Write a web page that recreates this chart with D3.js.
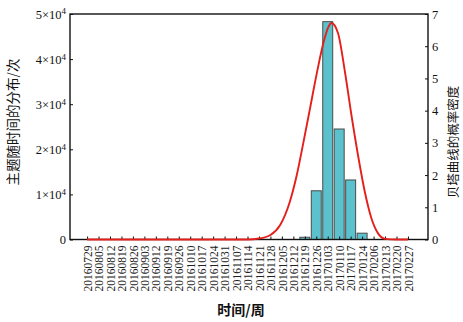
<!DOCTYPE html>
<html>
<head>
<meta charset="utf-8">
<script src="https://cdn.jsdelivr.net/npm/d3@7"></script>
<style>
  html, body { margin: 0; padding: 0; background: #fff; }
  svg { display: block; }
</style>
</head>
<body>
<svg id="chart" width="463" height="322"></svg>
<script>
const categories = ["20160729","20160805","20160812","20160819","20160826","20160903","20160912","20160919","20160926","20161010","20161017","20161024","20161031","20161107","20161114","20161121","20161128","20161205","20161212","20161219","20161226","20170103","20170110","20170117","20170124","20170206","20170213","20170220","20170227"];
const counts = [0,0,0,0,0,0,0,0,0,0,0,0,0,0,0,0,0,0,0,500,10800,48300,24500,13200,1400,0,0,0,0];
// beta-curve density read at (fractional) category positions
const densityPos = [0, 14, 15, 16, 16.85, 17.7, 18.3, 18.87, 19.46, 20.04, 20.62, 21.06, 21.33, 21.9, 22.49, 23.06, 23.65, 24.23, 24.81, 25.39, 26, 27, 28];
const densityVal = [0, 0, 0.03, 0.14, 0.45, 1.18, 2.0, 3.0, 4.08, 5.15, 6.1, 6.6, 6.72, 6.4, 5.23, 3.88, 2.6, 1.49, 0.66, 0.19, 0.02, 0, 0];
const leftTicks = [0, 10000, 20000, 30000, 40000, 50000];
const rightTicks = [0, 1, 2, 3, 4, 5, 6, 7];

const svg = d3.select("#chart");
const L = 70, R = 428, T = 14, B = 239.5;
const serif = "'Liberation Serif', 'Times New Roman', serif";
const cjk = "'Noto Sans CJK SC', sans-serif";

const x = d3.scalePoint().domain(categories).range([L, R]).padding(1.62).align(0.46);
const xi = d3.scaleLinear().domain([0, categories.length - 1])
  .range([x(categories[0]), x(categories[categories.length - 1])]);
const yL = d3.scaleLinear().domain([0, 50000]).range([B, T]);
const yR = d3.scaleLinear().domain([0, 7]).range([B, T]);
const bw = x.step() * 0.87;

// bars
svg.append("g").selectAll("rect")
  .data(categories.map((c, i) => ({c, v: counts[i]})).filter(d => d.v > 0))
  .join("rect")
  .attr("x", d => x(d.c) - bw / 2)
  .attr("y", d => yL(d.v))
  .attr("width", bw)
  .attr("height", d => B - yL(d.v))
  .attr("fill", "#5bc2cd")
  .attr("stroke", "#4a4a4a")
  .attr("stroke-width", 1);

// frame
svg.append("rect").attr("x", L).attr("y", T).attr("width", R - L).attr("height", B - T)
  .attr("fill", "none").attr("stroke", "#111").attr("stroke-width", 1.4);

// left axis
const gl = svg.append("g").attr("transform", `translate(${L},0)`)
  .call(d3.axisLeft(yL).tickValues(leftTicks).tickSizeInner(-3).tickSizeOuter(0).tickPadding(4));
gl.select(".domain").remove();
gl.selectAll("text").each(function(d) {
  const t = d3.select(this);
  t.text(null).attr("font-family", serif).attr("font-size", 12.5).attr("fill", "#111");
  if (d === 0) { t.text("0"); return; }
  t.append("tspan").text((d / 10000) + "×10");
  t.append("tspan").attr("dy", "-0.45em").attr("font-size", 9).text("4");
});
gl.selectAll("line").attr("stroke", "#111");

// right axis
const gr = svg.append("g").attr("transform", `translate(${R},0)`)
  .call(d3.axisRight(yR).tickValues(rightTicks).tickFormat(d3.format("d")).tickSizeInner(-3).tickSizeOuter(0).tickPadding(4));
gr.select(".domain").remove();
gr.selectAll("text").attr("font-family", serif).attr("font-size", 12.5).attr("fill", "#111");
gr.selectAll("line").attr("stroke", "#111");

// bottom axis
const gb = svg.append("g").attr("transform", `translate(0,${B})`)
  .call(d3.axisBottom(x).tickSizeInner(-3).tickSizeOuter(0).tickPadding(0));
gb.select(".domain").remove();
gb.selectAll("line").attr("stroke", "#111");
gb.selectAll("text")
  .attr("transform", "rotate(-90)")
  .attr("text-anchor", "end")
  .attr("x", -6).attr("y", 0).attr("dy", "0.36em")
  .attr("font-family", serif).attr("font-size", 11.5).attr("fill", "#222");

// density curve
const line = d3.line()
  .x(d => xi(d[0]))
  .y(d => yR(d[1]))
  .curve(d3.curveMonotoneX);
svg.append("path")
  .datum(densityPos.map((p, i) => [p, densityVal[i]]))
  .attr("d", line)
  .attr("fill", "none")
  .attr("stroke", "#e3201b")
  .attr("stroke-width", 1.9);

// titles
svg.append("text")
  .attr("transform", `translate(18,122) rotate(-90)`)
  .attr("text-anchor", "middle")
  .attr("font-family", cjk).attr("font-size", 13.5).attr("fill", "#111")
  .text("主题随时间的分布/次");
svg.append("text")
  .attr("transform", `translate(458,142) rotate(-90)`)
  .attr("text-anchor", "middle")
  .attr("font-family", cjk).attr("font-size", 12.5).attr("fill", "#111")
  .text("贝塔曲线的概率密度");
svg.append("text")
  .attr("x", 241).attr("y", 315)
  .attr("text-anchor", "middle")
  .attr("font-family", cjk).attr("font-size", 14).attr("font-weight", "bold").attr("fill", "#111")
  .text("时间/周");
</script>
</body>
</html>
